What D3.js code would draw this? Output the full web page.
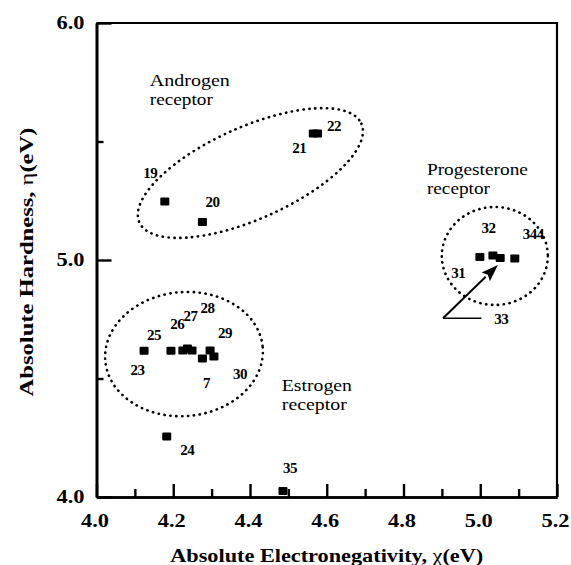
<!DOCTYPE html>
<html><head><meta charset="utf-8">
<script src="https://cdn.jsdelivr.net/npm/d3@7"></script>
<style>body{margin:0;background:#fff}svg{display:block}</style>
</head><body><svg id="chart" width="571" height="565"></svg>
<script>
// Axis tick values
const xMajorTicks = [4.0, 4.2, 4.4, 4.6, 4.8, 5.0, 5.2];
const xMinorTicks = [4.1, 4.3, 4.5, 4.7, 4.9, 5.1];
const yMajorTicks = [4.0, 5.0, 6.0];
const yMinorTicks = [4.5, 5.5];

// Compounds: label, absolute electronegativity χ (eV), absolute hardness η (eV)
const ids = ["19", "20", "21", "22", "23", "24", "25", "26", "27", "28", "7", "29", "30", "31", "32", "33", "344", "35"];
const chi = [4.178, 4.276, 4.565, 4.576, 4.124, 4.183, 4.194, 4.225, 4.237, 4.249, 4.276, 4.296, 4.306, 4.999, 5.033, 5.052, 5.090, 4.486];
const eta = [5.245, 5.158, 5.532, 5.532, 4.615, 4.253, 4.615, 4.616, 4.624, 4.616, 4.582, 4.616, 4.591, 5.011, 5.017, 5.006, 5.004, 4.023];

// Label offsets from each marker (px)
const labelDx = [-14.5, 10, -14, 16.5, -6.7, 20.5, -17, -5.5, 3, 15.5, 4, 15, 26, -21.5, -4.5, 1, 18.5, 7];
const labelDy = [-29.5, -20.5, 14, -8, 18.7, 13, -16, -27, -33, -43.5, 23.5, -18, 17, 15, -28.5, 60, -25, -23.5];

// Receptor groups: name lines, text anchor (data), dotted ellipse centre (data), radii (px), tilt (deg)
const groupNames = [["Androgen", "receptor"], ["Estrogen", "receptor"], ["Progesterone", "receptor"]];
const groupTextWidths = [[80, 63], [70, 65], [101, 63]];
const groupTextX = [4.139, 4.483, 4.861];
const groupTextY = [5.734, 4.447, 5.359];
const ellipseCx = [4.401, 4.228, 5.038];
const ellipseCy = [5.367, 4.603, 5.017];
const ellipseRx = [121.5, 79, 53];
const ellipseRy = [46, 62, 49];
const ellipseTilt = [-24, -5, 0];

// Pointer to compound 33: tail, tip and leader end (data)
const arrowTail = [4.903, 4.754];
const arrowTip = [5.046, 4.979];
const leaderEndX = 5.003;

const svg = d3.select("#chart");
const serif = "'Liberation Serif', 'Times New Roman', Times, serif";

const x = d3.scaleLinear().domain([4.0, 5.2]).range([96.5, 557]);
const y = d3.scaleLinear().domain([4.0, 6.0]).range([497, 23]);

// Dotted group ellipses
const ell = svg.append("g");
ellipseCx.forEach((cx, i) => {
  ell.append("ellipse")
    .attr("transform", `translate(${x(cx)},${y(ellipseCy[i])}) rotate(${ellipseTilt[i]})`)
    .attr("rx", ellipseRx[i]).attr("ry", ellipseRy[i])
    .attr("fill", "none").attr("stroke", "#000")
    .attr("stroke-width", 2.6).attr("stroke-linecap", "round")
    .attr("stroke-dasharray", "0.3 5.6");
});

// Group names, one text per line
groupNames.forEach((lines, i) => {
  lines.forEach((s, j) => svg.append("text")
    .attr("x", x(groupTextX[i])).attr("y", y(groupTextY[i]) + j * 19)
    .attr("font-family", serif).attr("font-size", 17).attr("fill", "#000")
    .attr("textLength", groupTextWidths[i][j]).attr("lengthAdjust", "spacingAndGlyphs")
    .text(s));
});

// Markers
const pts = ids.map((id, i) => ({id, cx: chi[i], cy: eta[i], dx: labelDx[i], dy: labelDy[i]}));
const S = 9;
svg.append("g").selectAll("rect").data(pts).join("rect")
  .attr("x", d => x(d.cx) - S / 2).attr("y", d => y(d.cy) - S / 2)
  .attr("width", S).attr("height", S - 1).attr("rx", 1).attr("fill", "#000");

svg.append("g").selectAll("text").data(pts).join("text")
  .attr("x", d => x(d.cx) + d.dx).attr("y", d => y(d.cy) + d.dy)
  .attr("dy", "0.35em").attr("text-anchor", "middle")
  .attr("font-family", serif).attr("font-size", 15).attr("font-weight", "bold")
  .attr("letter-spacing", -0.5)
  .text(d => d.id);

// Arrow to compound 33
const tx = x(arrowTail[0]), ty = y(arrowTail[1]);
const hx = x(arrowTip[0]), hy = y(arrowTip[1]);
const ang = Math.atan2(hy - ty, hx - tx);
const headLen = 17, headHalf = 6;
const bx = hx - headLen * Math.cos(ang), by = hy - headLen * Math.sin(ang);
svg.append("line")
  .attr("x1", tx).attr("y1", ty).attr("x2", bx).attr("y2", by)
  .attr("stroke", "#000").attr("stroke-width", 2);
svg.append("path")
  .attr("d", d3.line()([
    [hx, hy],
    [bx - headHalf * Math.sin(ang), by + headHalf * Math.cos(ang)],
    [bx + 3 * Math.cos(ang), by + 3 * Math.sin(ang)],
    [bx + headHalf * Math.sin(ang), by - headHalf * Math.cos(ang)]
  ]) + "Z")
  .attr("fill", "#000");
svg.append("line")
  .attr("x1", tx).attr("y1", ty)
  .attr("x2", x(leaderEndX)).attr("y2", ty)
  .attr("stroke", "#000").attr("stroke-width", 1.6);

// Axes with inward ticks
const axisStyle = g => {
  g.selectAll(".domain").attr("stroke", "#000").attr("stroke-width", 2.6);
  g.selectAll(".tick line").attr("stroke", "#000").attr("stroke-width", 2.4);
};
const tickText = g => g.selectAll(".tick text")
  .attr("font-family", serif).attr("font-size", 18).attr("font-weight", "bold").attr("fill", "#000")
  .attr("textLength", 28).attr("lengthAdjust", "spacingAndGlyphs");

const bottom = svg.append("g").attr("transform", "translate(0,497)");
bottom.call(d3.axisBottom(x).tickValues(xMinorTicks).tickSize(-8).tickFormat("").tickSizeOuter(0)).call(axisStyle);
bottom.append("g").call(d3.axisBottom(x).tickValues(xMajorTicks).tickSize(-13).tickSizeOuter(0).tickFormat(d3.format(".1f")).tickPadding(17))
  .call(axisStyle).call(tickText)
  .call(g => g.selectAll(".tick text").attr("dy", "0.71em").attr("x", -2));

const left = svg.append("g").attr("transform", "translate(96.5,0)");
left.call(d3.axisLeft(y).tickValues(yMinorTicks).tickSize(-7).tickFormat("").tickSizeOuter(0)).call(axisStyle);
left.append("g").call(d3.axisLeft(y).tickValues(yMajorTicks).tickSize(-15).tickSizeOuter(0).tickFormat(d3.format(".1f")).tickPadding(12))
  .call(axisStyle).call(tickText);

// Frame top and right
svg.append("path")
  .attr("d", `M${x(4.0)},${y(6.0)} H${x(5.2)} V${y(4.0)}`)
  .attr("fill", "none").attr("stroke", "#000").attr("stroke-width", 2.2);

// Axis titles
const xt = svg.append("text")
  .attr("x", (x(4.0) + x(5.2)) / 2).attr("y", 562).attr("text-anchor", "middle")
  .attr("font-family", serif).attr("font-size", 19).attr("font-weight", "bold")
  .attr("textLength", 313).attr("lengthAdjust", "spacingAndGlyphs");
xt.append("tspan").text("Absolute Electronegativity, ");
xt.append("tspan").attr("font-weight", "normal").text("χ");
xt.append("tspan").text("(eV)");

const yt = svg.append("text")
  .attr("transform", "translate(33,262) rotate(-90)").attr("text-anchor", "middle")
  .attr("font-family", serif).attr("font-size", 19).attr("font-weight", "bold")
  .attr("textLength", 269).attr("lengthAdjust", "spacingAndGlyphs");
yt.append("tspan").text("Absolute Hardness, ");
yt.append("tspan").attr("font-weight", "normal").text("η");
yt.append("tspan").text("(eV)");
</script>
</body></html>
